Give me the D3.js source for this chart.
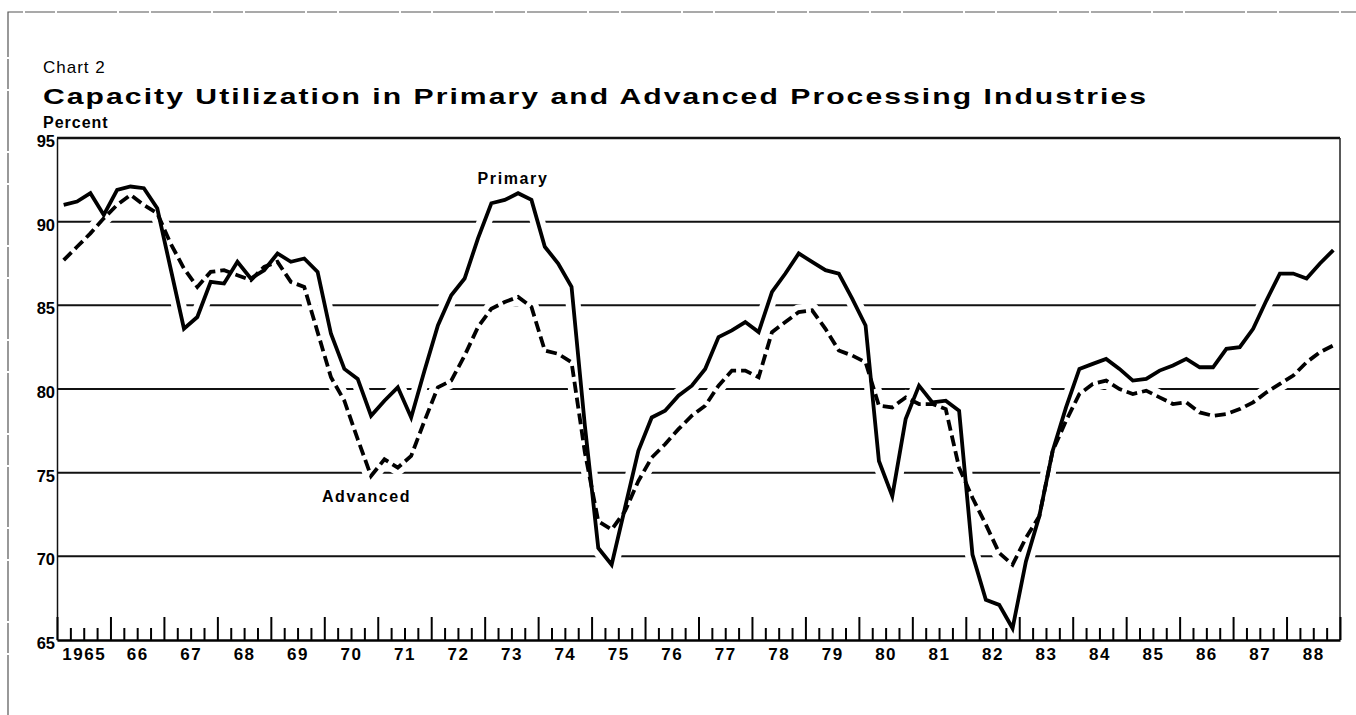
<!DOCTYPE html>
<html>
<head>
<meta charset="utf-8">
<script src="https://cdnjs.cloudflare.com/ajax/libs/d3/7.8.5/d3.min.js"></script>
<style>
  body { margin: 0; background: #fff; }
  svg { display: block; font-family: "Liberation Sans", Arial, sans-serif; }
</style>
</head>
<body>
<div id="chart"></div>
<script>
// quarterly capacity utilization, 1965Q1 .. 1988Q4 (percent)
var startYear = 1965;
var yearLabels = ["1965","66","67","68","69","70","71","72","73","74","75","76",
                  "77","78","79","80","81","82","83","84","85","86","87","88"];
var yTicks = [65, 70, 75, 80, 85, 90, 95];

var primary = [
  91.0, 91.2, 91.7, 90.4,   91.9, 92.1, 92.0, 90.8,   87.2, 83.6, 84.3, 86.4,
  86.3, 87.6, 86.6, 87.1,   88.1, 87.6, 87.8, 87.0,   83.3, 81.2, 80.6, 78.4,
  79.3, 80.1, 78.3, 81.1,   83.8, 85.6, 86.6, 89.0,   91.1, 91.3, 91.7, 91.3,
  88.5, 87.5, 86.1, 77.8,   70.5, 69.5, 72.9, 76.3,   78.3, 78.7, 79.6, 80.2,
  81.2, 83.1, 83.5, 84.0,   83.4, 85.8, 86.9, 88.1,   87.6, 87.1, 86.9, 85.4,
  83.8, 75.7, 73.6, 78.2,   80.2, 79.2, 79.3, 78.7,   70.1, 67.4, 67.1, 65.7,
  69.7, 72.4, 76.3, 78.9,   81.2, 81.5, 81.8, 81.2,   80.5, 80.6, 81.1, 81.4,
  81.8, 81.3, 81.3, 82.4,   82.5, 83.6, 85.3, 86.9,   86.9, 86.6, 87.5, 88.3
];

var advanced = [
  87.7, 88.5, 89.3, 90.2,   91.0, 91.6, 91.0, 90.5,   88.7, 87.2, 86.1, 87.0,
  87.1, 86.8, 86.5, 87.3,   87.6, 86.4, 86.1, 83.4,   80.7, 79.3, 77.0, 74.8,
  75.8, 75.3, 76.0, 78.1,   80.1, 80.5, 82.0, 83.7,   84.8, 85.2, 85.5, 84.9,
  82.3, 82.1, 81.6, 76.2,   72.1, 71.6, 72.7, 74.5,   75.9, 76.7, 77.6, 78.4,
  79.0, 80.2, 81.1, 81.1,   80.7, 83.4, 84.0, 84.6,   84.7, 83.6, 82.3, 82.0,
  81.6, 79.0, 78.9, 79.5,   79.1, 79.1, 78.8, 75.3,   73.5, 71.9, 70.2, 69.5,
  71.1, 72.4, 76.3, 78.1,   79.7, 80.3, 80.5, 80.0,   79.7, 79.9, 79.5, 79.1,
  79.2, 78.6, 78.4, 78.5,   78.8, 79.2, 79.8, 80.3,   80.8, 81.6, 82.2, 82.6
];

var width = 1356, height = 715;
var plot = {left: 57, right: 1340, top: 138, bottom: 640};

var svg = d3.select("#chart")
  .append("svg")
  .attr("width", width)
  .attr("height", height);

svg.append("rect").attr("width", width).attr("height", height).attr("fill", "#fff");

// scanned page border
svg.append("path")
  .attr("d", "M8,715V12H1356")
  .attr("fill", "none")
  .attr("stroke", "#555")
  .attr("stroke-width", 1.2)
  .attr("stroke-dasharray", "60,2,30,2");

// titles
svg.append("text")
  .attr("x", 43).attr("y", 73)
  .attr("font-size", 17)
  .attr("letter-spacing", 1)
  .text("Chart 2");

svg.append("text")
  .attr("x", 43).attr("y", 104)
  .attr("font-size", 22)
  .attr("font-weight", "bold")
  .attr("letter-spacing", 1.5)
  .attr("textLength", 1105)
  .attr("lengthAdjust", "spacingAndGlyphs")
  .text("Capacity Utilization in Primary and Advanced Processing Industries");

svg.append("text")
  .attr("x", 43).attr("y", 128)
  .attr("font-size", 16)
  .attr("font-weight", "bold")
  .attr("letter-spacing", 1)
  .text("Percent");

// scales
var nYears = yearLabels.length;
var x = d3.scaleLinear()
  .domain([startYear, startYear + nYears])
  .range([plot.left, plot.right]);

var y = d3.scaleLinear()
  .domain([65, 95])
  .range([plot.bottom, plot.top]);

// quarter midpoints
var t = function(i) { return startYear + i / 4 + 0.125; };

// gridlines
svg.append("g")
  .selectAll("line")
  .data(yTicks.filter(function(d) { return d > 65; }))
  .join("line")
  .attr("x1", plot.left).attr("x2", plot.right)
  .attr("y1", function(d) { return y(d); })
  .attr("y2", function(d) { return y(d); })
  .attr("stroke", "#111")
  .attr("stroke-width", function(d) { return d === 95 ? 2.6 : 2; });

var line = d3.line()
  .x(function(d, i) { return x(t(i)); })
  .y(function(d) { return y(d); });

// white casing cuts the gridlines where the series cross them
[primary, advanced].forEach(function(s) {
  svg.append("path")
    .datum(s)
    .attr("fill", "none")
    .attr("stroke", "#fff")
    .attr("stroke-width", 15)
    .attr("stroke-linejoin", "round")
    .attr("d", line);
});

// Add Y axis
var yAxis = svg.append("g")
  .attr("transform", "translate(" + plot.left + ",0)")
  .call(d3.axisLeft(y).tickValues(yTicks).tickSize(0).tickPadding(2).tickSizeOuter(0));
yAxis.select(".domain").attr("stroke", "#111").attr("stroke-width", 1.5);
yAxis.selectAll("text")
  .attr("font-family", "Liberation Sans, Arial, sans-serif")
  .attr("font-size", 16.5)
  .attr("font-weight", "bold")
  .attr("fill", "#000")
  .attr("dy", "0.52em");

// right frame
svg.append("line")
  .attr("x1", plot.right).attr("x2", plot.right)
  .attr("y1", plot.top).attr("y2", plot.bottom)
  .attr("stroke", "#222").attr("stroke-width", 1.5);

// Add X axis: quarter ticks pointing up
var qTicks = d3.range(0, nYears * 4 + 1).map(function(k) { return startYear + k / 4; });
var xTicks = svg.append("g")
  .attr("transform", "translate(0," + plot.bottom + ")")
  .call(d3.axisTop(x).tickValues(qTicks).tickSize(12).tickSizeOuter(0).tickFormat(""));
xTicks.select(".domain").attr("stroke", "#000").attr("stroke-width", 2.6);
xTicks.selectAll(".tick line")
  .attr("stroke", "#000")
  .attr("stroke-width", 2)
  .attr("y2", function(d, k) { return k % 4 === 0 ? -23 : -12; });

// year labels centred in each year
var xLabels = svg.append("g")
  .attr("transform", "translate(0," + plot.bottom + ")")
  .call(d3.axisBottom(x)
    .tickValues(yearLabels.map(function(d, i) { return startYear + i + 0.5; }))
    .tickFormat(function(d, i) { return yearLabels[i]; })
    .tickSize(0).tickPadding(8));
xLabels.select(".domain").remove();
xLabels.selectAll("text")
  .attr("font-family", "Liberation Sans, Arial, sans-serif")
  .attr("font-size", 17)
  .attr("font-weight", "bold")
  .attr("letter-spacing", 1.5)
  .attr("fill", "#000");

// the two series
svg.append("path")
  .datum(advanced)
  .attr("fill", "none")
  .attr("stroke", "#000")
  .attr("stroke-width", 3.8)
  .attr("stroke-dasharray", "11,5")
  .attr("d", line);

svg.append("path")
  .datum(primary)
  .attr("fill", "none")
  .attr("stroke", "#000")
  .attr("stroke-width", 3.8)
  .attr("stroke-linejoin", "miter")
  .attr("d", line);

// series labels
svg.append("text")
  .attr("x", x(1973.53)).attr("y", y(92.25))
  .attr("text-anchor", "middle")
  .attr("font-size", 16)
  .attr("font-weight", "bold")
  .attr("letter-spacing", 1.6)
  .text("Primary");

svg.append("text")
  .attr("x", x(1970.79)).attr("y", y(73.25))
  .attr("text-anchor", "middle")
  .attr("font-size", 16)
  .attr("font-weight", "bold")
  .attr("letter-spacing", 1.6)
  .text("Advanced");
</script>
</body>
</html>
